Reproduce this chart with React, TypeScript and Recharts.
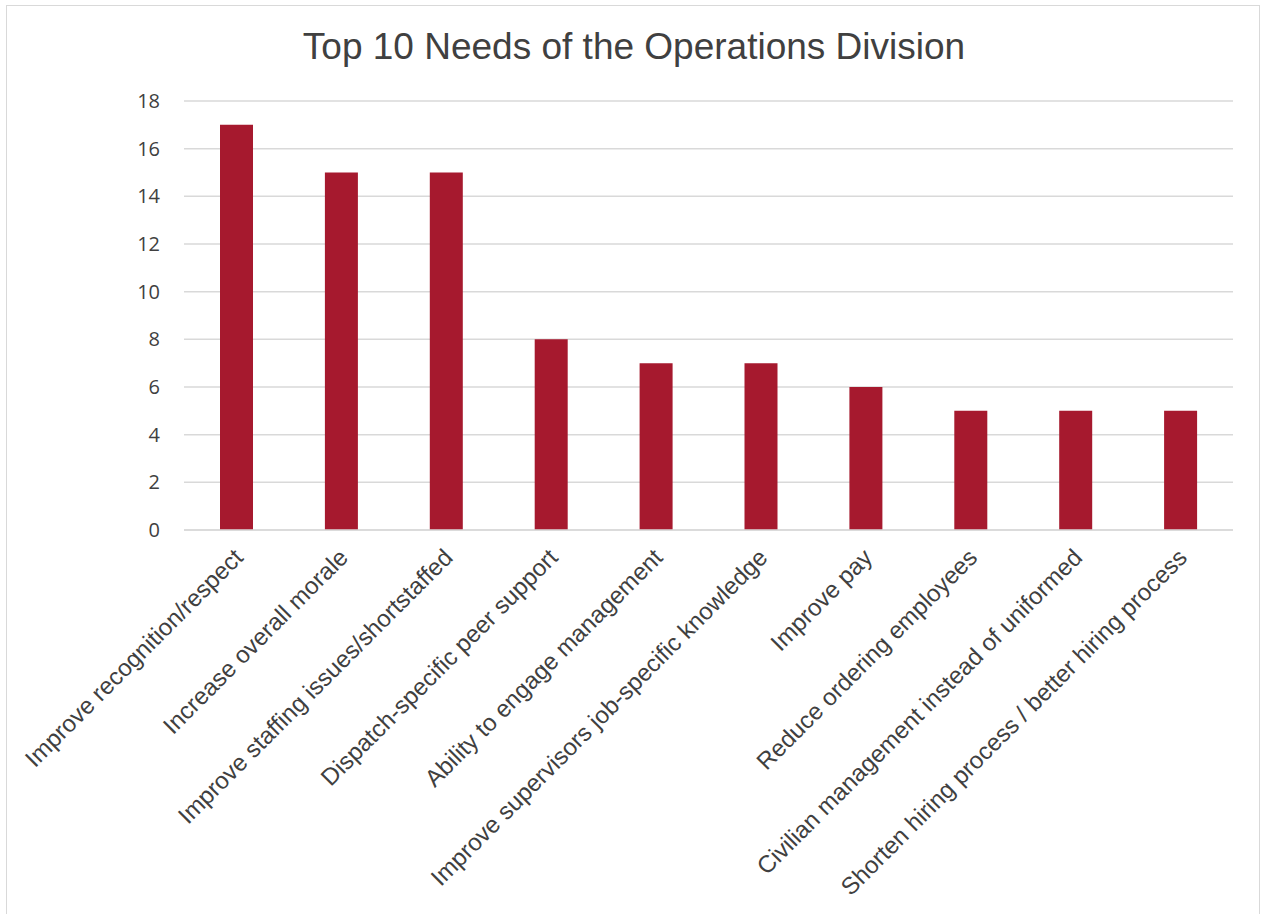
import { BarChart, Bar, XAxis, YAxis, CartesianGrid } from "recharts";

const categories = [
  "Improve recognition/respect",
  "Increase overall morale",
  "Improve staffing issues/shortstaffed",
  "Dispatch-specific peer support",
  "Ability to engage management",
  "Improve supervisors job-specific knowledge",
  "Improve pay",
  "Reduce ordering employees",
  "Civilian management instead of uniformed",
  "Shorten hiring process / better hiring process",
];

const counts = [17, 15, 15, 8, 7, 7, 6, 5, 5, 5];

const yTicks = [0, 2, 4, 6, 8, 10, 12, 14, 16, 18];

const data = categories.map((name, i) => ({ name, value: counts[i] }));

function CategoryTick({ x, y, payload }: any) {
  const tx = x + 8;
  const ty = y + 21;
  return (
    <text
      x={tx}
      y={ty}
      transform={`rotate(-45, ${tx}, ${ty})`}
      textAnchor="end"
      fill="#404040"
      fontSize={24}
      fontFamily="'Liberation Sans', Arial, sans-serif"
    >
      {payload.value}
    </text>
  );
}

export default function App() {
  return (
    <div style={{ position: "absolute", left: 0, top: 0, width: 1262, height: 914, background: "#fff", overflow: "hidden" }}>
      <div
        style={{
          position: "absolute",
          left: 6,
          top: 5,
          width: 1254,
          height: 914,
          border: "1px solid #d9d9d9",
          boxSizing: "border-box",
        }}
      />
      <div
        style={{
          position: "absolute",
          left: 0,
          top: 28,
          width: 1268,
          textAlign: "center",
          fontFamily: "'Liberation Sans', Arial, sans-serif",
          fontSize: 37,
          lineHeight: "37px",
          color: "#404040",
        }}
      >
        Top 10 Needs of the Operations Division
      </div>
      <div style={{ position: "absolute", left: 0, top: 0 }}>
        <BarChart width={1262} height={914} data={data} margin={{ top: 101, right: 29, bottom: 0, left: 0 }}>
          <CartesianGrid vertical={false} stroke="#d9d9d9" strokeWidth={1.5} />
          <XAxis
            dataKey="name"
            interval={0}
            height={384}
            tickLine={false}
            axisLine={{ stroke: "#d9d9d9", strokeWidth: 1.5 }}
            tick={<CategoryTick />}
          />
          <YAxis
            width={184}
            domain={[0, 18]}
            ticks={yTicks}
            tickLine={false}
            axisLine={false}
            tickMargin={18}
            tick={{ fill: "#404040", fontSize: 20, fontFamily: "'Open Sans', sans-serif" }}
          />
          <Bar dataKey="value" fill="#a6192e" barSize={33} isAnimationActive={false} />
        </BarChart>
      </div>
    </div>
  );
}
